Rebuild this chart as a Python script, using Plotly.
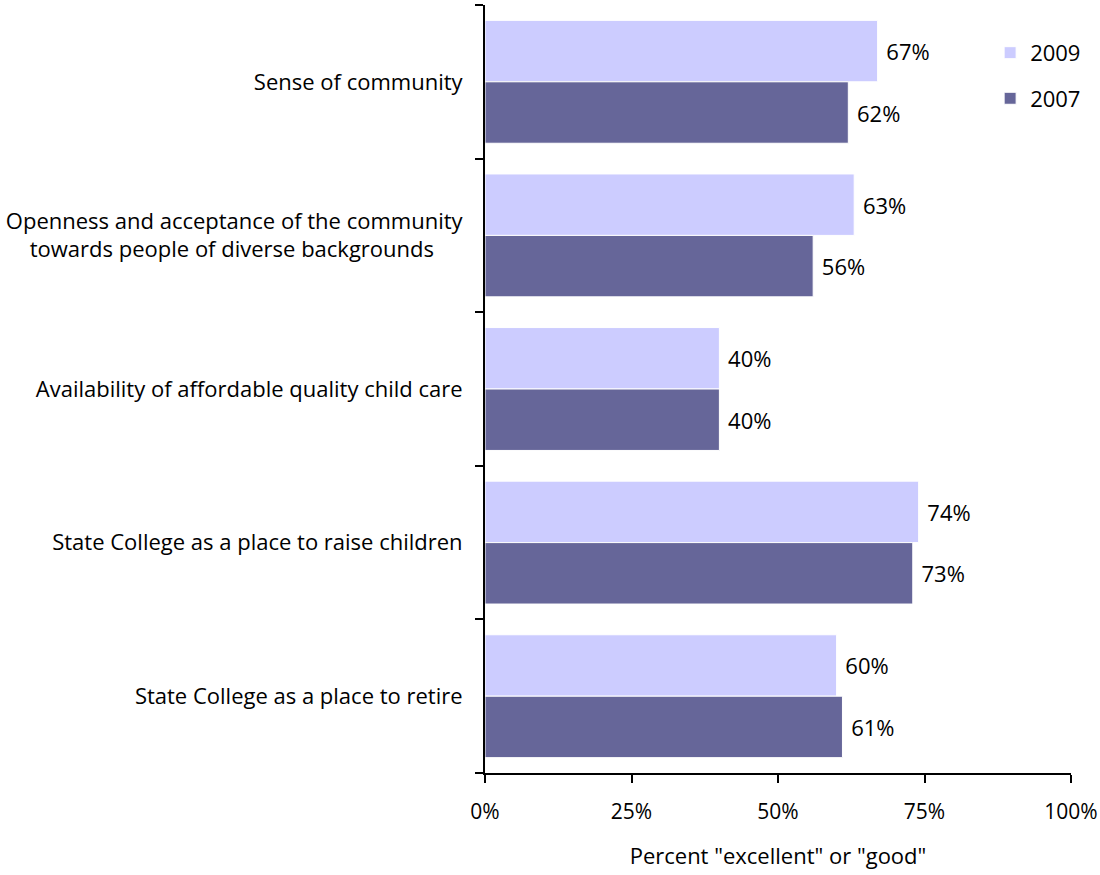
import plotly.graph_objects as go

# Survey items, top to bottom
categories = [
    "Sense of community",
    "Openness and acceptance of the community towards people of diverse backgrounds",
    "Availability of affordable quality child care",
    "State College as a place to raise children",
    "State College as a place to retire",
]
tick_labels = [
    "Sense of community",
    "Openness and acceptance of the community<br>towards people of diverse backgrounds" + "\u00a0" * 5,
    "Availability of affordable quality child care",
    "State College as a place to raise children",
    "State College as a place to retire",
]
values_2009 = [67, 63, 40, 74, 60]
values_2007 = [62, 56, 40, 73, 61]
x_ticks = [0, 25, 50, 75, 100]
x_tick_labels = ["0%", "25%", "50%", "75%", "100%"]

FONT = "Open Sans"
fig = go.Figure()
for name, vals, color in [("2009", values_2009, "#CCCCFF"), ("2007", values_2007, "#666699")]:
    fig.add_trace(go.Bar(
        name=name, y=categories, x=vals, orientation="h",
        marker=dict(color=color, line=dict(color="white", width=1)),
        text=[f"\u00a0{v}%" for v in vals], textposition="outside",
        textfont=dict(family=FONT, size=22, color="black"),
        cliponaxis=False, legendgroup=name,
    ))

fig.update_layout(
    width=1100, height=875,
    margin=dict(l=485, r=29, t=5, b=102),
    paper_bgcolor="white", plot_bgcolor="white",
    barmode="group", bargap=0.2, bargroupgap=0.0,
    font=dict(family=FONT, size=21, color="black"),
    legend=dict(x=0.862, y=0.965, xanchor="left", yanchor="top",
                font=dict(size=22), tracegroupgap=14, bgcolor="rgba(0,0,0,0)"),
    showlegend=True,
)
fig.update_xaxes(
    range=[0, 100], tickvals=x_ticks, ticktext=x_tick_labels, automargin=False,
    showgrid=False, zeroline=False, showline=True, linecolor="black", linewidth=2,
    ticks="outside", ticklen=8, tickwidth=2, tickcolor="black",
    tickfont=dict(size=21), ticklabelstandoff=11,
    title=dict(text='Percent "excellent" or "good"', font=dict(size=22), standoff=24),
)
fig.update_yaxes(
    autorange="reversed", tickvals=categories, ticktext=tick_labels, automargin=False,
    tickson="boundaries", showgrid=False, zeroline=False,
    showline=True, linecolor="black", linewidth=2,
    ticks="outside", ticklen=8, tickwidth=2, tickcolor="black",
    tickfont=dict(size=22), ticklabelstandoff=16,
)

fig.write_html("out.html")
